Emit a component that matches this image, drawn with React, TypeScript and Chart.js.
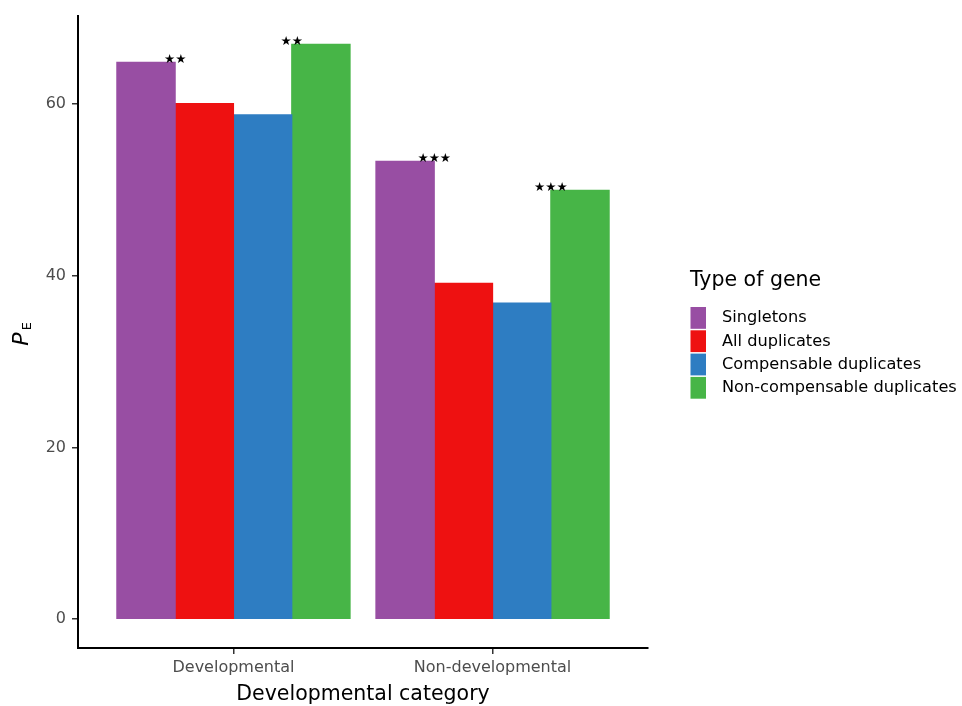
import React, { useEffect, useRef } from "react";
import { Chart, registerables } from "chart.js";

Chart.register(...registerables);

const categories = ["Developmental", "Non-developmental"];
const geneTypes = ["Singletons", "All duplicates", "Compensable duplicates", "Non-compensable duplicates"];
const singletons = [64.8, 53.3];
const allDuplicates = [60.0, 39.1];
const compensableDuplicates = [58.7, 36.8];
const nonCompensableDuplicates = [66.9, 49.9];
const colors = ["#984EA3", "#EE1111", "#2E7DC2", "#47B547"];
const yTicks = [0, 20, 40, 60];
// significance marks: category index, series index, side of bar (+1 right edge, -1 left edge), label
const sigCategory = [0, 0, 1, 1];
const sigSeries = [0, 3, 0, 3];
const sigSide = [1, -1, 1, -1];
const sigLabels = ["**", "**", "***", "***"];

const FONT = '"DejaVu Sans", "Liberation Sans", Arial, sans-serif';

export default function App() {
  const ref = useRef<HTMLCanvasElement>(null);

  useEffect(() => {
    document.body.style.margin = "0";
    const canvas = ref.current!;
    const seriesList = [singletons, allDuplicates, compensableDuplicates, nonCompensableDuplicates];
    const datasets = geneTypes.map((name, s) => ({
      label: name,
      data: categories.map((_, i) => ({ x: i + 1, y: seriesList[s][i] })),
      backgroundColor: colors[s],
      borderWidth: 0,
      inflateAmount: 0.6,
      categoryPercentage: 0.9,
      barPercentage: 1.0,
    }));

    const overlay = {
      id: "overlay",
      afterDraw(chart: any) {
        const c = chart.ctx as CanvasRenderingContext2D;
        const area = chart.chartArea;
        c.save();
        // significance marks drawn as stars
        c.fillStyle = "#000";
        c.font = `12.5px ${FONT}`;
        c.textAlign = "center";
        c.textBaseline = "alphabetic";
        sigLabels.forEach((lab, k) => {
          const bar = chart.getDatasetMeta(sigSeries[k]).data[sigCategory[k]] as any;
          const x = bar.x + (sigSide[k] * bar.width) / 2;
          const txt = lab.replace(/\*/g, "\u2605");
          const m = c.measureText(txt);
          const centerY = bar.y - 4;
          const baseY = centerY + (m.actualBoundingBoxAscent - m.actualBoundingBoxDescent) / 2;
          c.fillText(txt, x, baseY);
        });

        // x axis title
        c.fillStyle = "#000";
        c.font = `20.5px ${FONT}`;
        c.textAlign = "center";
        c.textBaseline = "alphabetic";
        c.fillText("Developmental category", (area.left + area.right) / 2, 700);

        // y axis title: italic P with subscript E
        c.save();
        c.translate(22, 339);
        c.rotate(-Math.PI / 2);
        c.font = `italic 22px ${FONT}`;
        c.textBaseline = "middle";
        c.textAlign = "center";
        const pw = c.measureText("P").width;
        c.fillText("P", 0, 0);
        c.font = `13px ${FONT}`;
        c.textAlign = "left";
        c.fillText("E", pw / 2 + 2, 5.5);
        c.restore();

        // legend
        c.textAlign = "left";
        c.textBaseline = "alphabetic";
        c.font = `20.5px ${FONT}`;
        c.fillStyle = "#000";
        c.fillText("Type of gene", 690, 286);
        c.font = `16.2px ${FONT}`;
        c.textBaseline = "middle";
        geneTypes.forEach((name, i) => {
          const top = 307 + i * 23.3;
          c.fillStyle = colors[i];
          c.fillRect(690.5, top, 15.5, 21.8);
          c.fillStyle = "#000";
          c.fillText(name, 722, top + 11);
        });
        c.restore();
      },
    };

    const chart = new Chart(canvas, {
      type: "bar",
      data: { datasets: datasets as any },
      options: {
        animation: false,
        responsive: false,
        layout: { padding: { left: 0, top: 14, right: 314, bottom: 0 } },
        plugins: { legend: { display: false }, tooltip: { enabled: false } },
        scales: {
          x: {
            type: "linear",
            min: 0.4,
            max: 2.6,
            offset: false,
            afterBuildTicks: (scale: any) => {
              scale.ticks = categories.map((_, i) => ({ value: i + 1 }));
            },
            afterFit: (scale: any) => {
              scale.height = 58;
            },
            ticks: {
              callback: (v: any) => categories[Number(v) - 1] ?? "",
              color: "#4D4D4D",
              font: { family: FONT, size: 16 },
              padding: 4,
              maxRotation: 0,
              autoSkip: false,
            },
            grid: {
              display: true,
              offset: false,
              drawOnChartArea: false,
              drawTicks: true,
              tickLength: 6,
              color: "#333333",
              lineWidth: 1.5,
            },
            border: { display: true, color: "#000", width: 2 },
          },
          y: {
            type: "linear",
            min: -3.35,
            max: 70.25,
            afterBuildTicks: (scale: any) => {
              scale.ticks = yTicks.map((v) => ({ value: v }));
            },
            afterFit: (scale: any) => {
              scale.width = 78;
            },
            ticks: {
              color: "#4D4D4D",
              font: { family: FONT, size: 16 },
              padding: 6,
            },
            grid: {
              display: true,
              drawOnChartArea: false,
              drawTicks: true,
              tickLength: 6,
              color: "#333333",
              lineWidth: 1.5,
            },
            border: { display: true, color: "#000", width: 2 },
          },
        },
      },
      plugins: [overlay],
    });
    return () => chart.destroy();
  }, []);

  return (
    <div style={{ width: 962, height: 706 }}>
      <canvas ref={ref} width={962} height={706} style={{ display: "block" }} />
    </div>
  );
}
